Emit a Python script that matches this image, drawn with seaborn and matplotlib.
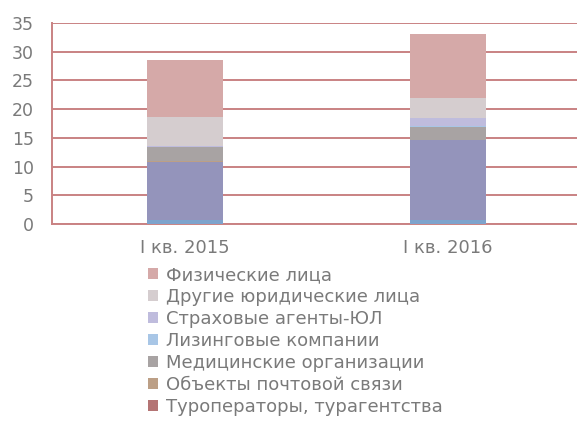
import matplotlib
matplotlib.use("Agg")
import matplotlib.pyplot as plt
import seaborn as sns
import pandas as pd
import numpy as np
from matplotlib.patches import Patch

# ---- data ----
categories = ["I кв. 2015", "I кв. 2016"]
# stacked bottom -> top
series_names = [
    "Автодилеры",
    "Кредитные организации",
    "Туроператоры, турагентства",
    "Объекты почтовой связи",
    "Медицинские организации",
    "Лизинговые компании",
    "Страховые агенты-ЮЛ",
    "Другие юридические лица",
    "Физические лица",
]
avtodilery = [0.7, 0.7]
kreditnye = [10.15, 13.9]
turoperatory = [0.02, 0.02]
pochta = [0.03, 0.03]
medicinskie = [2.45, 2.25]
lizing = [0.05, 0.12]
strakhovye = [0.1, 1.4]
drugie_ul = [5.1, 3.6]
fiz_lica = [9.9, 11.0]
series_values = [avtodilery, kreditnye, turoperatory, pochta, medicinskie,
                 lizing, strakhovye, drugie_ul, fiz_lica]
legend_series = series_names[2:][::-1]
y_ticks = [0, 5, 10, 15, 20, 25, 30, 35]

colors = {
    "Автодилеры": "#7ea3cc",
    "Кредитные организации": "#9494bb",
    "Туроператоры, турагентства": "#b47474",
    "Объекты почтовой связи": "#bc9f86",
    "Медицинские организации": "#a8a3a3",
    "Лизинговые компании": "#a8c6e6",
    "Страховые агенты-ЮЛ": "#bfbcdd",
    "Другие юридические лица": "#d5cdcf",
    "Физические лица": "#d5a9a8",
}

rows = []
for name, vals in zip(series_names, series_values):
    for c, v in zip(categories, vals):
        rows.append({"category": c, "series": name, "value": v})
df = pd.DataFrame(rows)
df["series"] = pd.Categorical(df["series"], categories=series_names, ordered=True)
df = df.sort_values(["category", "series"])
df["cum"] = df.groupby("category")["value"].cumsum()

sns.set_theme(style="white")
plt.rcParams["font.family"] = ["DejaVu Sans"]
text_color = "#7a7a7a"
grid_color = "#c98283"

fig = plt.figure(figsize=(5.77, 4.22), dpi=100)
ax = fig.add_axes([52 / 577, 1 - 224 / 422, 525 / 577, 201 / 422])

# draw cumulative bars from top layer down
for name in series_names[::-1]:
    sub = df[df["series"] == name]
    sns.barplot(data=sub, x="category", y="cum", order=categories,
                color=colors[name], width=0.29, saturation=1,
                ax=ax, zorder=3, linewidth=0)

ax.set_xlim(-0.506, 1.49)
ax.set_ylim(0, 35)
ax.set_yticks(y_ticks)
ax.set_yticklabels([str(t) for t in y_ticks])
ax.yaxis.grid(True, color=grid_color, linewidth=1.4, zorder=0)
ax.set_axisbelow(True)
ax.set_xlabel("")
ax.set_ylabel("")
for s in ["top", "right"]:
    ax.spines[s].set_visible(False)
for s in ["left", "bottom"]:
    ax.spines[s].set_color(grid_color)
    ax.spines[s].set_linewidth(1.4)
ax.tick_params(axis="y", length=0, pad=13, labelsize=12.5, labelcolor=text_color)
ax.tick_params(axis="x", length=0, pad=11, labelsize=13, labelcolor=text_color)

handles = [Patch(facecolor=colors[n], edgecolor="none") for n in legend_series]
fig.legend(handles, legend_series, loc="upper left",
           bbox_to_anchor=(148 / 577, 1 - 266 / 422), frameon=False,
           fontsize=13, labelcolor=text_color, handlelength=0.55,
           handleheight=0.55, handletextpad=0.45, labelspacing=0.22,
           borderpad=0, borderaxespad=0)

fig.savefig("out.png", dpi=100)
